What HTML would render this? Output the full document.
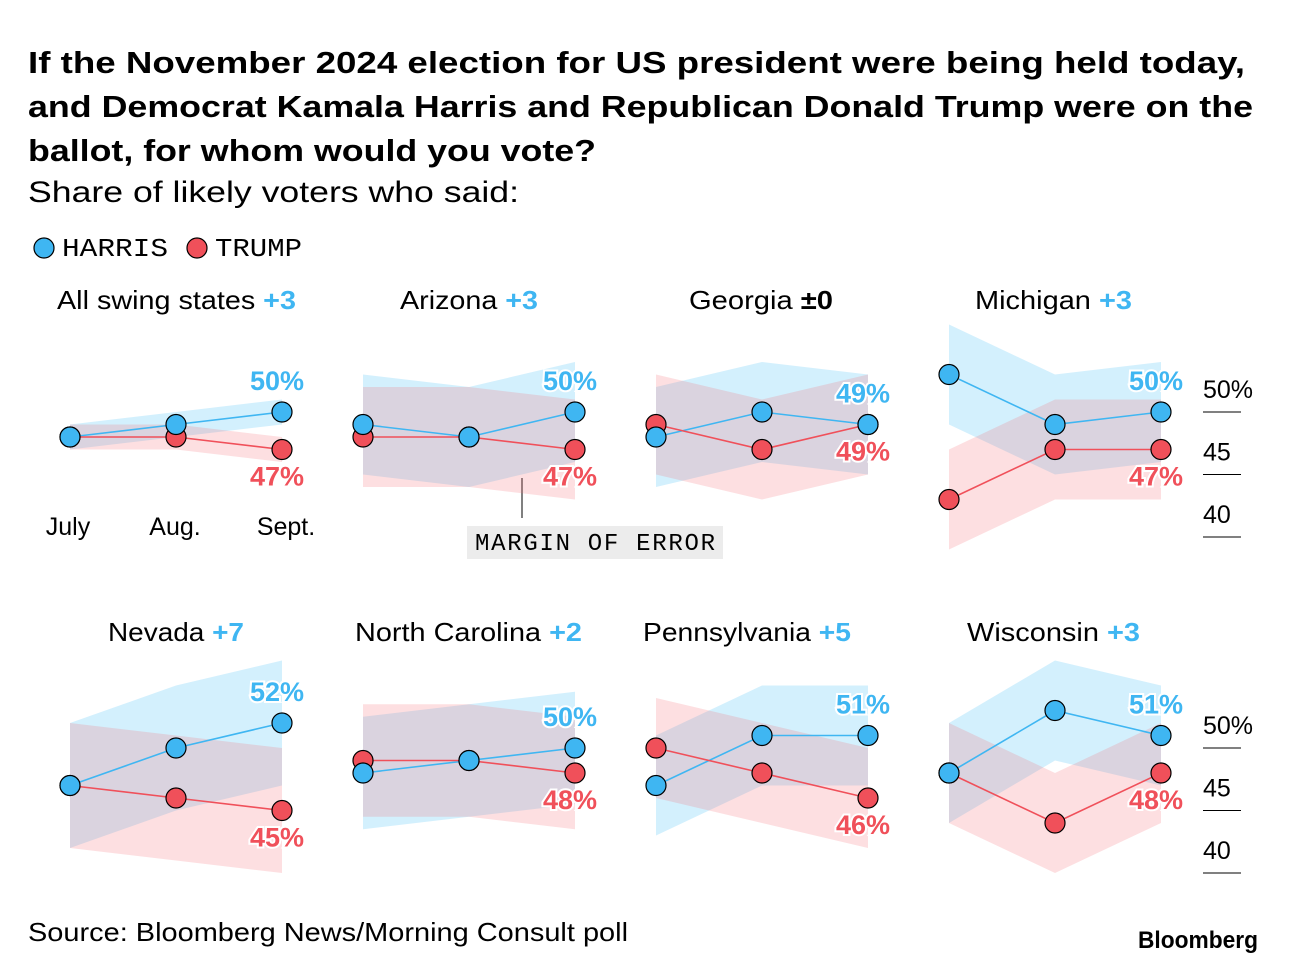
<!DOCTYPE html>
<html><head><meta charset="utf-8">
<style>
body{margin:0;background:#fff;width:1296px;height:974px;overflow:hidden;font-family:"Liberation Sans",sans-serif}
svg text{font-family:"Liberation Sans",sans-serif}
</style></head>
<body>
<svg id="c" width="1296" height="974">
<text x="28" y="73" font-size="31" font-weight="bold" fill="#000" textLength="1217" lengthAdjust="spacingAndGlyphs">If the November 2024 election for US president were being held today,</text>
<text x="28" y="117" font-size="31" font-weight="bold" fill="#000" textLength="1225" lengthAdjust="spacingAndGlyphs">and Democrat Kamala Harris and Republican Donald Trump were on the</text>
<text x="28" y="161" font-size="31" font-weight="bold" fill="#000" textLength="568" lengthAdjust="spacingAndGlyphs">ballot, for whom would you vote?</text>
<text x="28" y="202" font-size="30" fill="#000" textLength="491" lengthAdjust="spacingAndGlyphs">Share of likely voters who said:</text>
<g>
<circle cx="44" cy="248" r="10" fill="#3fb6f2" stroke="#000" stroke-width="1.2"/>
<text x="62" y="256" font-size="26" textLength="106" lengthAdjust="spacingAndGlyphs" style="font-family:'Liberation Mono',monospace">HARRIS</text>
<circle cx="197" cy="248" r="10" fill="#f0505a" stroke="#000" stroke-width="1.2"/>
<text x="215" y="256" font-size="26" textLength="87" lengthAdjust="spacingAndGlyphs" style="font-family:'Liberation Mono',monospace">TRUMP</text>
</g>
<g>
<text x="68" y="535" font-size="25" text-anchor="middle">July</text>
<text x="175" y="535" font-size="25" text-anchor="middle">Aug.</text>
<text x="286" y="535" font-size="25" text-anchor="middle">Sept.</text>
</g>
<g>
<line x1="522" y1="478" x2="522" y2="518" stroke="#000" stroke-width="1"/>
<rect x="467" y="526" width="256" height="33" fill="#ececec"/>
<text x="475" y="550" font-size="24" textLength="240" lengthAdjust="spacing" style="font-family:'Liberation Mono',monospace">MARGIN OF ERROR</text>
</g>
<text x="28" y="941" font-size="26" textLength="600" lengthAdjust="spacingAndGlyphs">Source: Bloomberg News/Morning Consult poll</text>
<text x="1138" y="948" font-size="24" font-weight="bold" textLength="120" lengthAdjust="spacingAndGlyphs">Bloomberg</text>
</svg>
<script>
const states=["All swing states","Arizona","Georgia","Michigan","Nevada","North Carolina","Pennsylvania","Wisconsin"];
const leads=["+3","+3","±0","+3","+7","+2","+5","+3"];
const harris=[[48,49,50],[49,48,50],[48,50,49],[53,49,50],[47,50,52],[48,49,50],[47,51,51],[48,53,51]];
const trump=[[48,48,47],[48,48,47],[49,47,49],[43,47,47],[47,46,45],[49,49,48],[50,48,46],[48,44,48]];
const moe=[1,4,4,4,5,4.5,4,4];
const ticks=[50,45,40];
const tickLabels=["50%","45","40"];
const titleBox=[[57,296],[400,538],[689,833],[975,1132],[108,244],[355,582],[643,851],[967,1140]];
const svg=document.getElementById('c');
const NS="http://www.w3.org/2000/svg";
function mk(t,a,p){const e=document.createElementNS(NS,t);for(const k in a)e.setAttribute(k,a[k]);(p||svg).appendChild(e);return e;}
function xPos(panel,i){return 70+(panel%4)*293+i*106;}
function yPos(panel,v){const base=panel<4?412:748;return base-(v-50)*12.5;}
const BLUE="#3fb6f2",RED="#f0505a";
states.forEach((s,p)=>{
  const g=mk('g',{});
  
  
  const ty=p<4?309:641;
  const tb=titleBox[p];
  const t=mk('text',{x:tb[0],y:ty,'font-size':26,textLength:tb[1]-tb[0],lengthAdjust:'spacingAndGlyphs'},g);
  
  
  t.textContent=s+' ';
  const ts=mk('tspan',{fill:leads[p]==="±0"?"#000":BLUE,'font-weight':'bold'},t);ts.textContent=leads[p];
  [[harris[p],"rgba(79,195,247,0.25)"],[trump[p],"rgba(245,110,120,0.22)"]].forEach(([vals,fill],k)=>{
    const up=vals.map((v,i)=>xPos(p,i)+','+yPos(p,v+moe[p]));
    const dn=vals.map((v,i)=>xPos(p,i)+','+yPos(p,v-moe[p])).reverse();
    const b=mk('polygon',{points:up.concat(dn).join(' '),fill:fill},g);
    
    
  });
  [[harris[p],BLUE,'harris'],[trump[p],RED,'trump']].forEach(([vals,col,nm])=>{
    const l=mk('polyline',{points:vals.map((v,i)=>xPos(p,i)+','+yPos(p,v)).join(' '),fill:'none',stroke:col,'stroke-width':1.6},g);
    
    
  });
  [[trump[p],RED,'trump'],[harris[p],BLUE,'harris']].forEach(([vals,col,nm])=>{
    vals.forEach((v,i)=>{
      const c=mk('circle',{cx:xPos(p,i),cy:yPos(p,v),r:10,fill:col,stroke:'#000','stroke-width':1.2},g);
      
      
    });
  });
  const lx=xPos(p,2)-5;
  const yh=yPos(p,harris[p][2]), yt=yPos(p,trump[p][2]);
  const hl=mk('text',{x:lx,y:Math.min(yh,yt)-22,'font-size':27,'font-weight':'bold','text-anchor':'middle',fill:BLUE,stroke:'#fff','stroke-width':4,'paint-order':'stroke'},g);
  
  
  hl.textContent=harris[p][2]+'%';
  const tl=mk('text',{x:lx,y:Math.max(yh,yt)+36,'font-size':27,'font-weight':'bold','text-anchor':'middle',fill:RED,stroke:'#fff','stroke-width':4,'paint-order':'stroke'},g);
  
  
  tl.textContent=trump[p][2]+'%';
});
[3,7].forEach(p=>{
  const g=mk('g',{});
  
  
  ticks.forEach((v,i)=>{
    const y=yPos(p,v);
    mk('line',{x1:1203,x2:1241,y1:y,y2:y,stroke:'#000','stroke-width':1},g);
    const t=mk('text',{x:1203,y:y-14,'font-size':25},g);
    
    
    t.textContent=tickLabels[i];
  });
});
</script>
</body></html>
